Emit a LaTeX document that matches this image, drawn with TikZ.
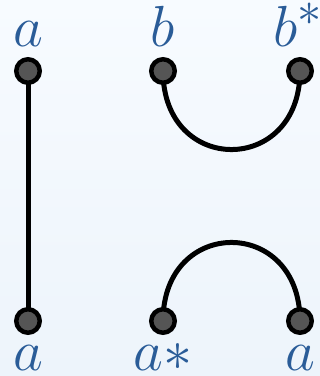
\documentclass[tikz,border=0pt]{standalone}
\usetikzlibrary{backgrounds}
\definecolor{lblue}{HTML}{2A5C98}
\definecolor{dotgray}{HTML}{555555}
\definecolor{bgtop}{HTML}{F7FBFF}
\definecolor{bgbot}{HTML}{EDF4FB}
\tikzset{
  dot/.style={circle,draw=black,fill=dotgray,line width=4.5pt,minimum size=23.5pt,inner sep=0pt},
  conn/.style={line width=5pt,black},
  lbl/.style={text=lblue,anchor=base,inner sep=0pt,font=\Huge,scale=2.33}
}
\begin{document}
\begin{tikzpicture}[x=1pt,y=1pt]
\useasboundingbox (0,0) rectangle (320,376);
\node[dot] (at) at (28,305) {};
\node[dot] (bt) at (163,305) {};
\node[dot] (bst) at (300,305) {};
\node[dot] (ab) at (28,55) {};
\node[dot] (asb) at (163,55) {};
\node[dot] (a2b) at (300,55) {};
\begin{scope}[on background layer]
\shade[top color=bgtop,bottom color=bgbot] (0,0) rectangle (320,376);
\draw[conn] (at.center) -- (ab.center);
\draw[conn] (bt.center) to[out=-90,in=-90,looseness=1.96] (bst.center);
\draw[conn] (asb.center) to[out=90,in=90,looseness=1.96] (a2b.center);
\end{scope}
\node[lbl] (la) at (28,329) {$a$};
\node[lbl] (lb) at (163,329) {$b$};
\node[lbl] (lbs) at (298,329) {$b^*$};
\node[lbl] (lab) at (28,6) {$a$};
\node[lbl] (las) at (163,6) {$a*$};
\node[lbl] (la2) at (300,6) {$a$};
\end{tikzpicture}
\end{document}
